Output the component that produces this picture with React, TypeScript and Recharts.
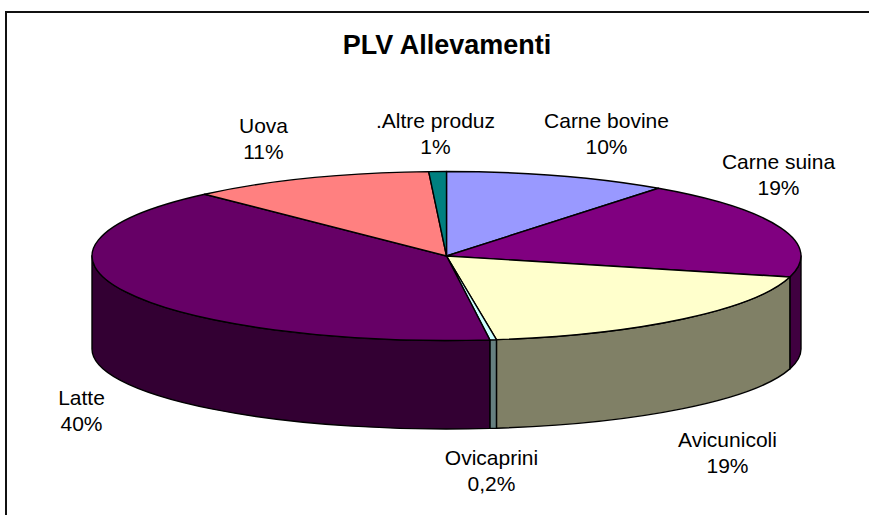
import { Pie, PieChart } from "recharts";

const categories = ["Carne bovine", "Carne suina", "Avicunicoli", "Ovicaprini", "Latte", "Uova", ".Altre produz"];
const shares = [10.2, 18.8, 18.75, 0.3, 40, 11.15, 0.8];
const shareLabels = ["10%", "19%", "19%", "0,2%", "40%", "11%", "1%"];

const topColors = ["#9999FF", "#800080", "#FFFFCC", "#CCFFFF", "#660066", "#FF8080", "#008080"];
const wallColors = ["#4D4D80", "#400040", "#808066", "#668080", "#330033", "#804040", "#004040"];

// where Excel left each label, relative to the pie centre
const labelDx = [160, 332, 281, 45, -365, -183, -11];
const labelDy = [-128, -87, 191, 209, 149, -123, -128];

const WIDTH = 869;
const HEIGHT = 515;
const CX = 446.5;
const CY = 256;
const RX = 354.5;
const RY = 84.5;
// the bottom rim is a little flatter than the top, Excel's perspective
const BOTTOM_CY = 349;
const BOTTOM_RY = 80;
const FONT = "'Liberation Sans', Arial, sans-serif";

const data = categories.map((name, i) => ({
  name,
  value: shares[i],
  fill: topColors[i],
  wall: wallColors[i],
  shareLabel: shareLabels[i],
  dx: labelDx[i],
  dy: labelDy[i],
}));

const px = (deg: number) => CX + RX * Math.cos((deg * Math.PI) / 180);
const py = (deg: number) => CY - RY * Math.sin((deg * Math.PI) / 180);
const pyBottom = (deg: number) => BOTTOM_CY - BOTTOM_RY * Math.sin((deg * Math.PI) / 180);

// sectors are drawn squashed: recharts gives the angles, the ellipse gives the look
function TopSlice(props: any) {
  const { startAngle, endAngle, fill } = props;
  const sweep = Math.abs(startAngle - endAngle) > 180 ? 1 : 0;
  const d = `M${CX},${CY} L${px(startAngle)},${py(startAngle)} A${RX},${RY} 0 ${sweep} 1 ${px(endAngle)},${py(endAngle)} Z`;
  return <path d={d} fill={fill} stroke="#000" strokeWidth={1.4} strokeLinejoin="round" />;
}

// only the front half of the drum shows a wall, angles there run 0 to -180
function WallSlice(props: any) {
  const { startAngle, endAngle, payload } = props;
  const from = Math.min(startAngle, 0);
  const to = Math.max(endAngle, -180);
  if (from <= to) return null;
  const d =
    `M${px(from)},${py(from)} A${RX},${RY} 0 0 1 ${px(to)},${py(to)} ` +
    `L${px(to)},${pyBottom(to)} A${RX},${BOTTOM_RY} 0 0 0 ${px(from)},${pyBottom(from)} Z`;
  return <path d={d} fill={payload.wall} stroke="#000" strokeWidth={1.4} strokeLinejoin="round" />;
}

function SliceLabel(props: any) {
  const { name, payload } = props;
  const x = CX + payload.dx;
  const y = CY + payload.dy;
  return (
    <text x={x} y={y} textAnchor="middle" fontFamily={FONT} fontSize={21} fill="#000">
      <tspan x={x} dy={0}>{name}</tspan>
      <tspan x={x} dy={26}>{payload.shareLabel}</tspan>
    </text>
  );
}

export default function App() {
  return (
    <div style={{ position: "absolute", left: 0, top: 0, width: WIDTH, height: HEIGHT, background: "#fff", overflow: "hidden" }}>
      <div style={{ position: "absolute", left: 5, top: 11, width: WIDTH, height: HEIGHT, borderLeft: "2px solid #111", borderTop: "2px solid #111" }} />
      <div style={{ position: "absolute", left: 0, top: 30, width: 894, textAlign: "center", fontFamily: FONT, fontSize: 27, fontWeight: 700 }}>
        PLV Allevamenti
      </div>
      <PieChart width={WIDTH} height={HEIGHT} style={{ position: "absolute", left: 0, top: 0 }}>
        <Pie
          data={data}
          dataKey="value"
          nameKey="name"
          cx={CX}
          cy={CY}
          outerRadius={RX}
          startAngle={90}
          endAngle={-270}
          paddingAngle={0}
          shape={WallSlice}
          label={false}
          labelLine={false}
          isAnimationActive={false}
        />
        <Pie
          data={data}
          dataKey="value"
          nameKey="name"
          cx={CX}
          cy={CY}
          outerRadius={RX}
          startAngle={90}
          endAngle={-270}
          paddingAngle={0}
          shape={TopSlice}
          label={SliceLabel}
          labelLine={false}
          isAnimationActive={false}
        />
      </PieChart>
    </div>
  );
}
